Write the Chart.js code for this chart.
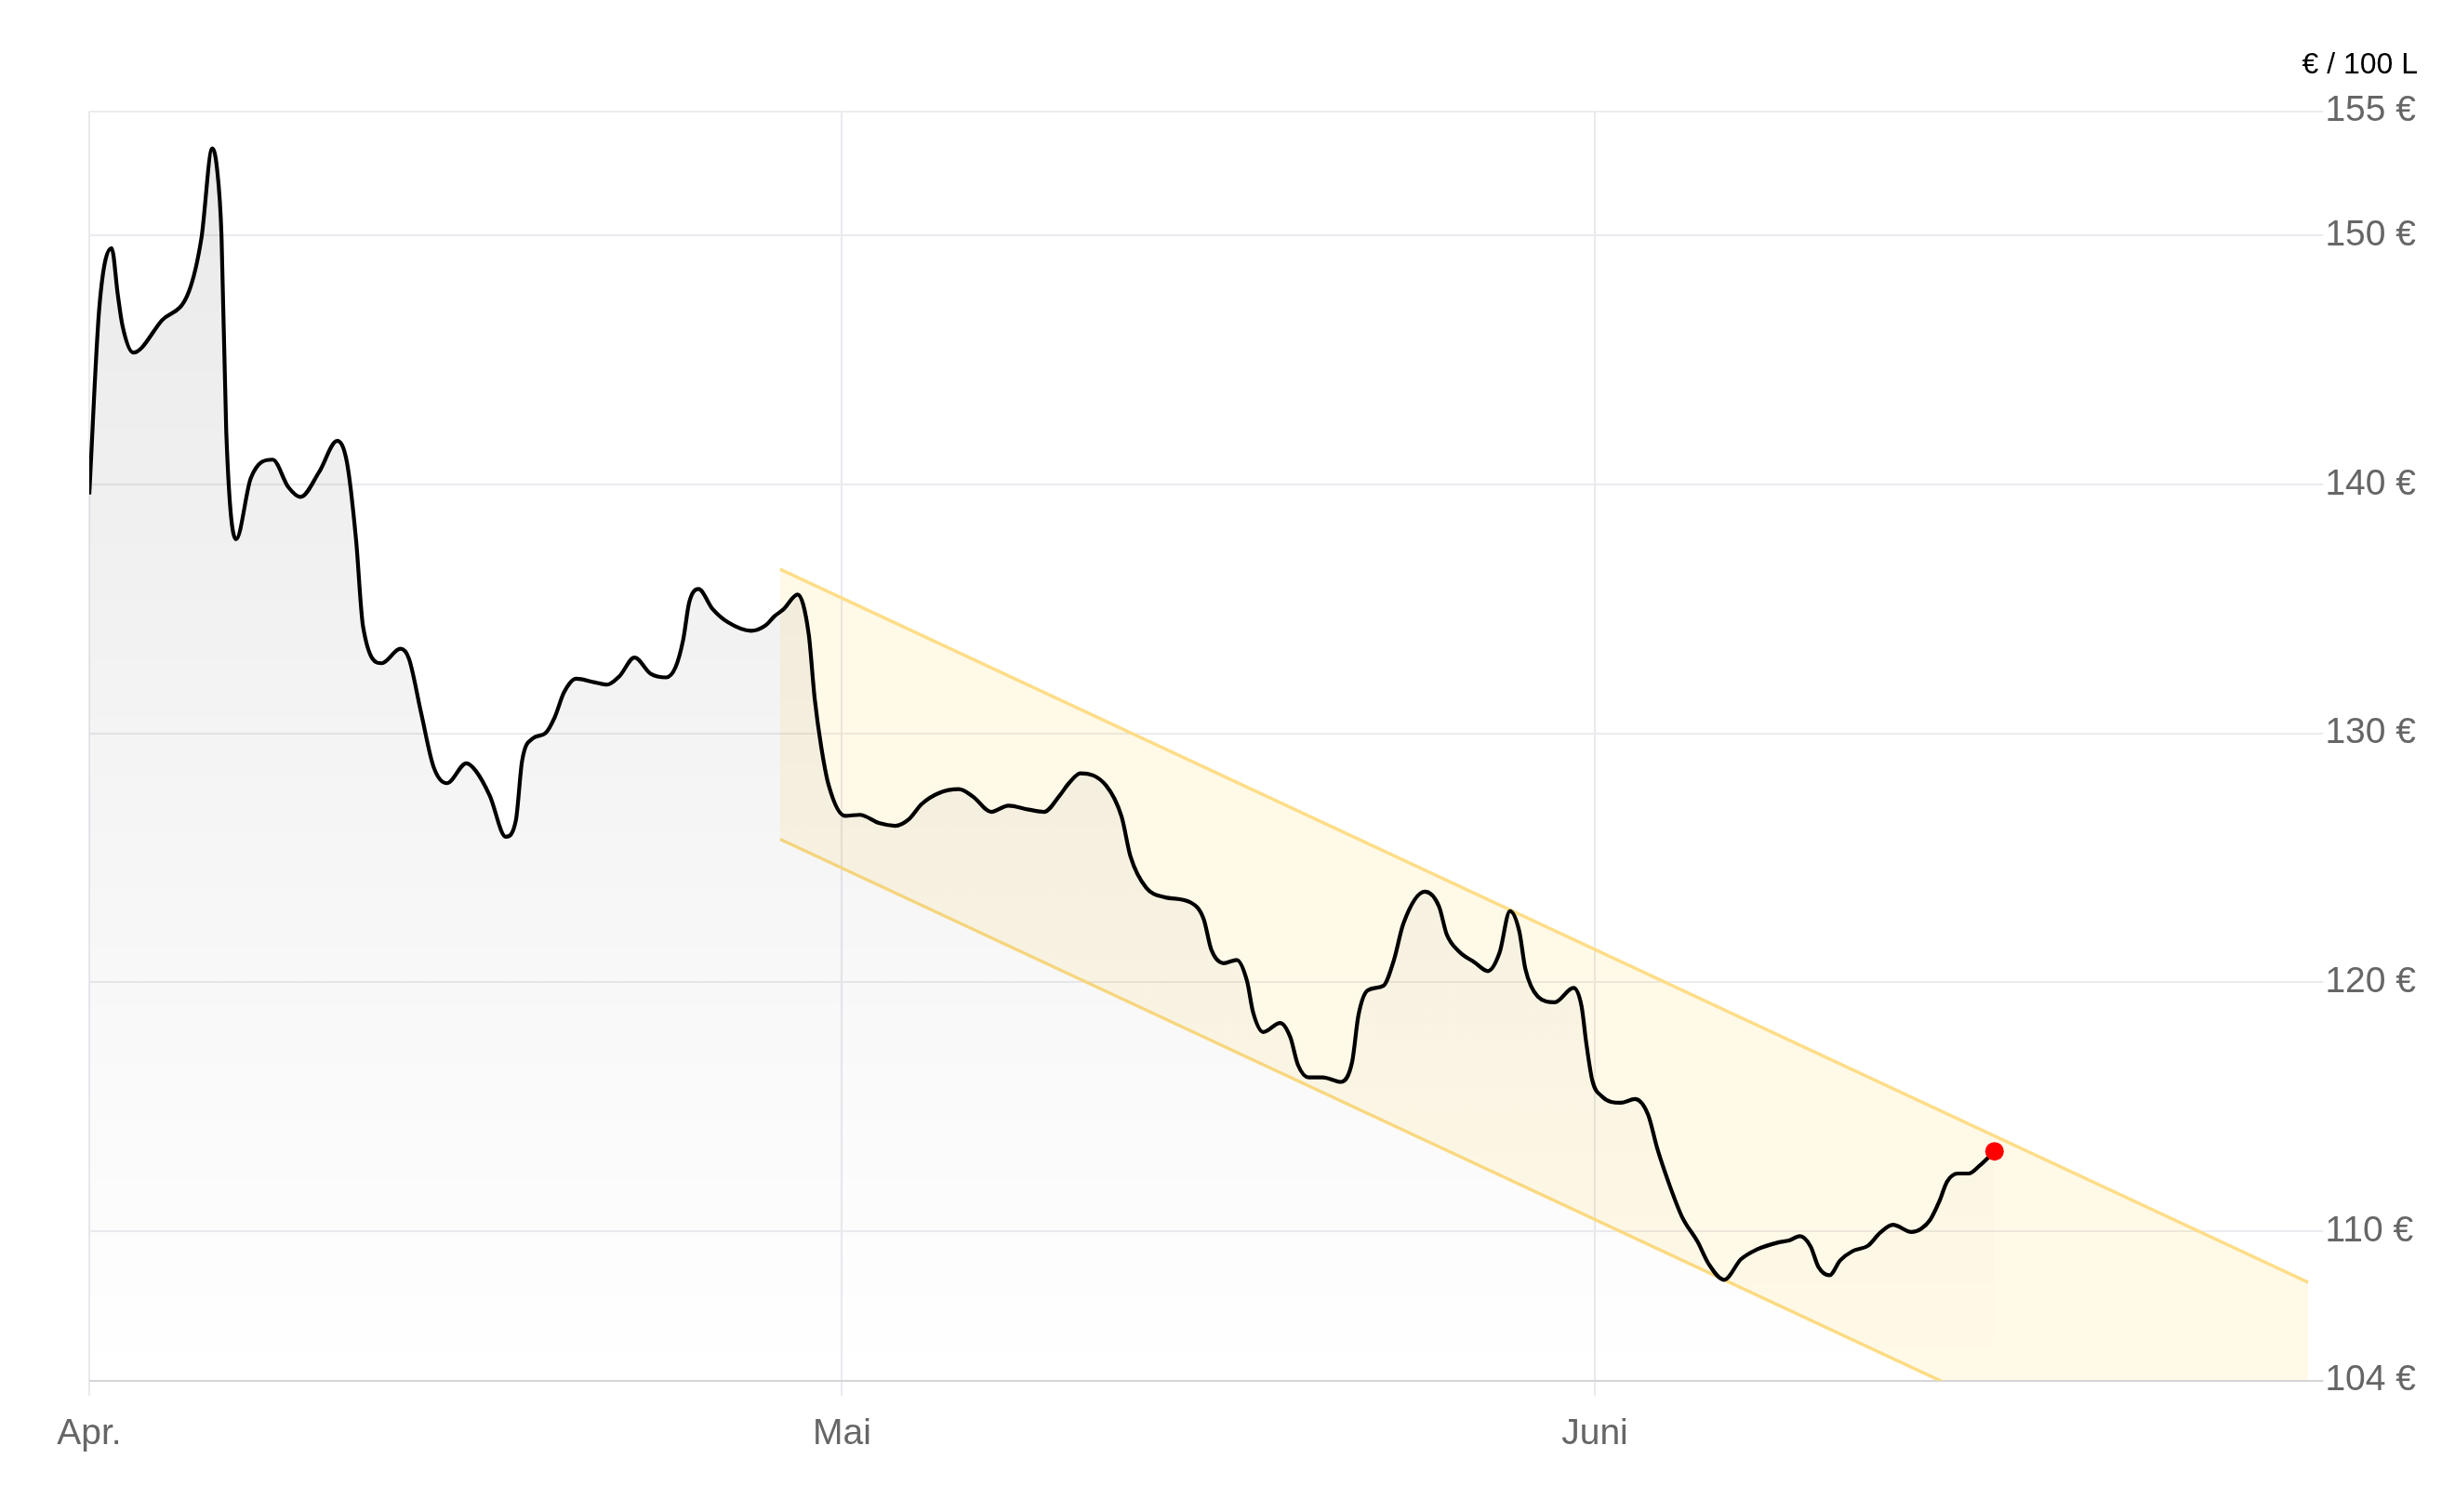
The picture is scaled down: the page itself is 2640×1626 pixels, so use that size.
<!DOCTYPE html>
<html lang="de">
<head>
<meta charset="utf-8">
<title>Heizölpreis</title>
<script src="https://cdn.jsdelivr.net/npm/chart.js@4.4.1/dist/chart.umd.min.js"></script>
<style>
  html, body { margin: 0; padding: 0; background: #fff; }
  #wrap { width: 2640px; height: 1626px; }
</style>
</head>
<body>
<div id="wrap"><canvas id="priceChart" width="2640" height="1626"></canvas></div>
<script>
// ===== DATA =====
// x = days counted from the "Apr." gridline, y = price in € per 100 L
const dayOffsets = [
  0, 0.4, 0.89, 1.14, 1.32, 1.75, 2.9, 3.97, 4.47, 4.9,
  5.09, 5.27, 5.46, 5.85, 6.44, 7.31, 7.93, 8.42, 9.16, 9.88,
  10.27, 10.63, 10.91, 11.66, 12.4, 12.74, 13.23, 13.72, 14.25, 15.03,
  15.4, 15.96, 16.6, 17.0, 17.25, 17.68, 18.17, 18.55, 18.92, 19.4,
  20.15, 20.64, 21.13, 21.73, 22.37, 22.99, 23.36, 23.67, 23.91, 24.28,
  24.84, 25.46, 26.38, 26.94, 27.31, 27.68, 28.23, 28.67, 28.91, 29.16,
  29.47, 30.12, 30.7, 31.5, 32.12, 32.67, 33.17, 33.85, 34.65, 35.21,
  35.95, 36.63, 37.43, 38.05, 38.67, 39.04, 39.5, 40.52, 41.14, 41.5,
  42.12, 42.86, 43.91, 44.41, 44.72, 45.21, 45.73, 46.14, 46.38, 46.79,
  47.46, 47.86, 48.17, 48.6, 49.16, 49.88, 50.33, 50.58, 50.95, 51.57,
  52.0, 52.37, 53.23, 53.79, 54.1, 54.59, 55.21, 55.74, 56.2, 56.62,
  56.99, 57.23, 57.73, 58.4, 59.15, 59.47, 59.66, 59.9, 60.27, 61.03,
  61.6, 62.12, 62.49, 62.99, 63.48, 64.1, 64.53, 65.15, 65.83, 66.44,
  67.31, 67.74, 68.17, 68.6, 68.91, 69.35, 69.78, 70.27, 70.89, 71.38,
  71.88, 72.62, 73.0, 73.36, 73.73, 74.04, 74.47, 74.9, 75.33, 75.93
];
const prices = [
  139.6, 147.1, 149.5, 147.6, 146.4, 145.3, 146.6, 147.75, 149.9, 153.5,
  152.7, 150.0, 142.1, 137.8, 140.26, 141.0, 139.9, 139.5, 140.5, 141.75,
  140.88, 137.8, 134.3, 132.82, 133.4, 133.0, 130.8, 128.66, 128.0, 128.8,
  128.5, 127.5, 125.85, 126.5, 128.9, 129.8, 130.0, 130.65, 131.65, 132.2,
  132.05, 131.96, 132.3, 133.05, 132.4, 132.25, 132.65, 133.77, 135.27, 135.8,
  135.0, 134.46, 134.12, 134.33, 134.71, 135.0, 135.58, 134.0, 131.4, 129.53,
  127.91, 126.69, 126.73, 126.39, 126.29, 126.56, 127.16, 127.6, 127.76, 127.47,
  126.85, 127.1, 126.94, 126.85, 127.5, 128.0, 128.4, 127.91, 126.66, 125.04,
  123.8, 123.42, 123.2, 122.55, 121.3, 120.77, 120.9, 120.05, 118.8, 118.0,
  118.37, 117.81, 116.68, 116.18, 116.18, 116.0, 116.81, 118.68, 119.68, 119.86,
  120.92, 122.36, 123.64, 123.05, 121.92, 121.24, 120.8, 120.45, 121.18, 122.86,
  122.05, 120.55, 119.43, 119.2, 119.78, 119.05, 117.56, 116.06, 115.43, 115.16,
  115.31, 114.69, 113.32, 111.82, 110.57, 109.57, 108.7, 108.05, 108.88, 109.26,
  109.55, 109.63, 109.8, 109.39, 108.57, 108.23, 108.83, 109.2, 109.42, 109.95,
  110.26, 109.97, 110.1, 110.45, 111.2, 112.0, 112.32, 112.32, 112.63, 113.21
];

// trend channel (start and end of both lines)
const channelDays = [27.53, 88.44];
const channelUpper = [136.6, 107.94];
const channelLower = [125.75, 97.09];

// axis ticks
const monthTickDays = [0, 30, 60];
const monthLabels = ['Apr.', 'Mai', 'Juni'];
const priceTicks = [104, 110, 120, 130, 140, 150, 155];
const unitLabel = '€ / 100 L';

// ===== BUILD POINTS =====
const pricePoints = dayOffsets.map(function(d, i) {
  return { x: d, y: prices[i] };
});
const upperPoints = channelDays.map(function(d, i) {
  return { x: d, y: channelUpper[i] };
});
const lowerPoints = channelDays.map(function(d, i) {
  return { x: d, y: channelLower[i] };
});

const tickFont = { family: '"Liberation Sans", Arial, sans-serif', size: 39 };

// grey fade under the price line
function areaGradient(context) {
  const chart = context.chart;
  const area = chart.chartArea;
  if (!area) return 'rgba(0,0,0,0.05)';
  const g = chart.ctx.createLinearGradient(0, area.top, 0, area.bottom);
  g.addColorStop(0, 'rgba(0,0,0,0.085)');
  g.addColorStop(1, 'rgba(0,0,0,0.0)');
  return g;
}

const lastIndex = prices.length - 1;

// ===== DRAW =====
const ctx = document.getElementById('priceChart').getContext('2d');
new Chart(ctx, {
  type: 'line',
  data: {
    datasets: [
      {
        // price line, drawn on top
        data: pricePoints,
        borderColor: '#000',
        borderWidth: 4.2,
        cubicInterpolationMode: 'monotone',
        fill: 'start',
        backgroundColor: areaGradient,
        pointRadius: function(c) { return c.dataIndex === lastIndex ? 10 : 0; },
        pointBackgroundColor: '#ff0000',
        pointBorderWidth: 0
      },
      {
        // upper channel line, filled down to the lower one
        data: upperPoints,
        borderColor: '#fddd88',
        borderWidth: 3.5,
        pointRadius: 0,
        fill: '+1',
        backgroundColor: 'rgba(255, 200, 50, 0.11)',
        clip: 0
      },
      {
        data: lowerPoints,
        borderColor: '#fddd88',
        borderWidth: 3.5,
        pointRadius: 0,
        fill: false,
        clip: 0
      }
    ]
  },
  options: {
    responsive: false,
    animation: false,
    events: [],
    layout: { padding: { left: 96, right: 40, top: 0, bottom: 42.5 } },
    plugins: {
      legend: { display: false },
      tooltip: { enabled: false },
      title: {
        display: true,
        text: unitLabel,
        align: 'end',
        color: '#000',
        font: { family: '"Liberation Sans", Arial, sans-serif', size: 32, weight: 'normal', lineHeight: 1.2 },
        padding: { top: 51, bottom: 30.1 }
      }
    },
    scales: {
      x: {
        type: 'linear',
        min: 0,
        max: channelDays[1],
        afterBuildTicks: function(axis) {
          axis.ticks = monthTickDays.map(function(v) { return { value: v }; });
        },
        ticks: {
          callback: function(value, index) { return monthLabels[index]; },
          color: '#666',
          font: tickFont,
          padding: 18,
          maxRotation: 0,
          autoSkip: false
        },
        grid: { color: '#e9e9ee', lineWidth: 2, tickLength: 16 },
        border: { display: false }
      },
      y: {
        position: 'right',
        min: 104,
        max: 155,
        afterBuildTicks: function(axis) {
          axis.ticks = priceTicks.map(function(v) { return { value: v }; });
        },
        ticks: {
          callback: function(value) { return value + ' €'; },
          color: '#666',
          font: tickFont,
          padding: 2
        },
        grid: {
          color: function(c) {
            // the bottom line is the darker axis line
            return c.tick && c.tick.value === 104 ? '#d5d5da' : '#ebebf0';
          },
          lineWidth: 2,
          tickLength: 16
        },
        border: { display: false }
      }
    }
  }
});
</script>
</body>
</html>
